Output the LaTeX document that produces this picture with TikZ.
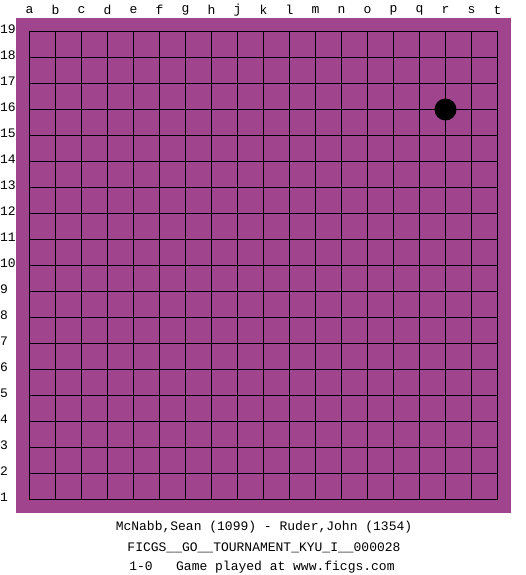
\documentclass[tikz,border=0pt]{standalone}
\usepackage{fontspec}
\setmonofont{Liberation Mono}
\definecolor{board}{RGB}{160,68,142}
\begin{document}
\begin{tikzpicture}[x=1pt,y=-1pt,
  lbl/.style={font=\ttfamily\fontsize{13}{15}\selectfont,inner sep=0pt},
  gridline/.style={line width=1.2pt,black},
  stone/.style={circle,fill=black,minimum size=22pt,inner sep=0pt}]
\useasboundingbox (0,0) rectangle (525,575);
\fill[board] (16,18) rectangle (511,513);
\foreach \i in {0,...,18}{
  \draw[gridline] (29.5+26*\i,31.5) -- (29.5+26*\i,499.5);
  \draw[gridline] (29.5,31.5+26*\i) -- (497.5,31.5+26*\i);
}
\foreach \c [count=\k from 0] in {a,b,c,d,e,f,g,h,j,k,l,m,n,o,p,q,r,s,t}{
  \node[lbl] (col\c) at (29.5+26*\k,10) {\c};
}
\foreach \r in {1,...,19}{
  \node[lbl,anchor=west] (row\r) at (0,31.5+26*19-26*\r-2.5) {\r};
}
\node[stone] (r16) at (445.5,109.5) {};
\node[lbl] (t1) at (264,527) {McNabb,Sean (1099) - Ruder,John (1354)};
\node[lbl] (t2) at (264,547.5) {FICGS\_\_GO\_\_TOURNAMENT\_KYU\_I\_\_000028};
\node[lbl] (t3) at (262,567.5) {1-0\ \ \ Game played at www.ficgs.com};
\end{tikzpicture}
\end{document}
